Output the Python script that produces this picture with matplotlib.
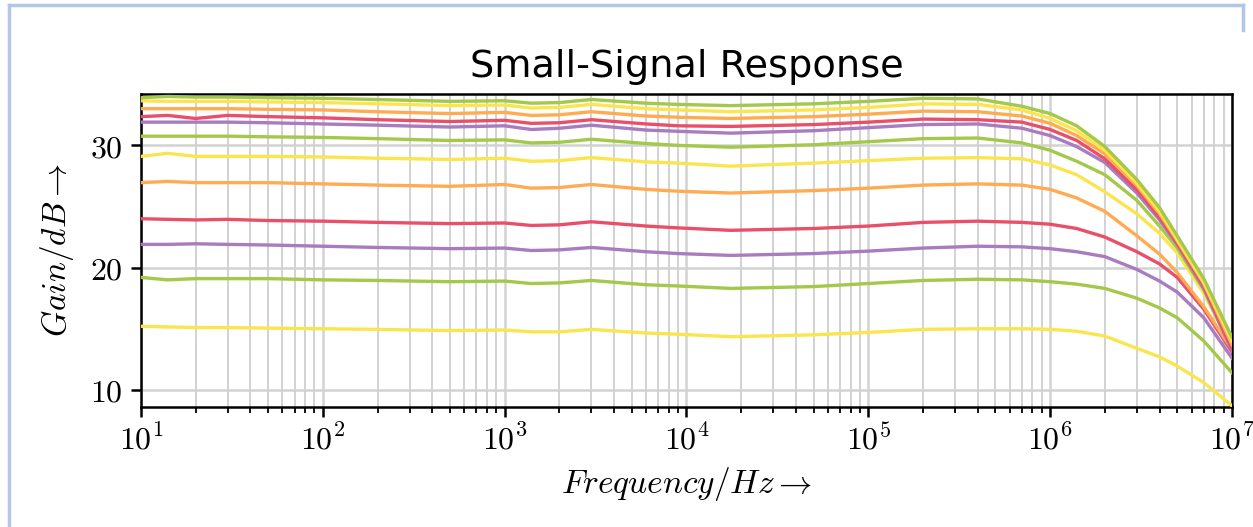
import numpy as np
import matplotlib.pyplot as plt
from matplotlib.lines import Line2D
from matplotlib.ticker import FuncFormatter, LogLocator

plt.rcParams['mathtext.fontset'] = 'cm'

# frequency points of the measurement
freq = [10, 14, 20, 30, 50, 100, 200, 500, 1e3, 1.4e3, 2e3, 3e3, 6e3, 9e3, 1.75e4,
        5e4, 1e5, 2e5, 4e5, 7e5, 1e6, 1.4e6, 2e6, 3e6, 4e6, 5e6, 7e6, 1e7]

# gain curves in dB, lowest setting first
gain_01 = [15.2, 15.15, 15.1, 15.1, 15.05, 15.0, 14.95, 14.85, 14.9, 14.75, 14.75, 14.95, 14.65, 14.55, 14.35,
           14.5, 14.7, 14.95, 15.0, 15.0, 14.95, 14.8, 14.4, 13.4, 12.7, 11.95, 10.6, 8.7]
gain_02 = [19.2, 19.0, 19.1, 19.1, 19.1, 19.0, 18.95, 18.85, 18.9, 18.7, 18.75, 18.95, 18.6, 18.5, 18.3,
           18.45, 18.7, 18.95, 19.05, 19.0, 18.85, 18.65, 18.3, 17.5, 16.7, 15.9, 14.0, 11.4]
gain_03 = [21.9, 21.9, 21.95, 21.9, 21.85, 21.75, 21.65, 21.55, 21.6, 21.4, 21.45, 21.65, 21.3, 21.15, 21.0,
           21.15, 21.35, 21.6, 21.75, 21.7, 21.55, 21.3, 20.9, 19.85, 18.9, 18.0, 15.9, 12.6]
gain_04 = [24.0, 23.95, 23.9, 23.95, 23.85, 23.8, 23.7, 23.6, 23.65, 23.45, 23.5, 23.75, 23.4, 23.25, 23.05,
           23.2, 23.4, 23.7, 23.8, 23.7, 23.55, 23.2, 22.5, 21.3, 20.3, 19.2, 16.6, 13.1]
gain_05 = [26.95, 27.05, 26.95, 26.95, 26.95, 26.85, 26.75, 26.65, 26.8, 26.5, 26.55, 26.8, 26.4, 26.25, 26.1,
           26.3, 26.5, 26.75, 26.85, 26.75, 26.4, 25.7, 24.6, 22.6, 21.1, 19.6, 16.8, 13.3]
gain_06 = [29.1, 29.35, 29.1, 29.1, 29.1, 29.05, 28.95, 28.85, 28.95, 28.7, 28.75, 29.0, 28.65, 28.55, 28.3,
           28.55, 28.75, 28.95, 29.0, 28.9, 28.4, 27.6, 26.2, 24.4, 22.8, 21.2, 17.9, 13.4]
gain_07 = [30.75, 30.75, 30.75, 30.75, 30.7, 30.65, 30.55, 30.4, 30.45, 30.2, 30.25, 30.5, 30.15, 30.0, 29.85,
           30.05, 30.3, 30.55, 30.6, 30.2, 29.6, 28.7, 27.6, 25.5, 23.4, 21.6, 18.2, 13.3]
gain_08 = [31.9, 31.9, 31.9, 31.9, 31.85, 31.75, 31.65, 31.5, 31.6, 31.3, 31.4, 31.65, 31.25, 31.15, 31.0,
           31.2, 31.45, 31.7, 31.75, 31.4, 30.8, 29.9, 28.6, 26.1, 23.9, 21.9, 18.3, 13.2]
gain_09 = [32.35, 32.45, 32.2, 32.45, 32.35, 32.25, 32.1, 31.95, 32.05, 31.8, 31.85, 32.1, 31.75, 31.6, 31.55,
           31.7, 31.9, 32.15, 32.1, 31.9, 31.3, 30.4, 28.9, 26.4, 24.1, 22.0, 18.5, 13.4]
gain_10 = [33.0, 33.0, 33.0, 33.0, 32.95, 32.9, 32.75, 32.6, 32.7, 32.45, 32.5, 32.75, 32.4, 32.3, 32.2,
           32.35, 32.55, 32.8, 32.75, 32.4, 31.8, 30.8, 29.3, 26.7, 24.4, 22.2, 18.7, 13.7]
gain_11 = [33.65, 33.6, 33.6, 33.6, 33.55, 33.5, 33.4, 33.25, 33.3, 33.05, 33.1, 33.35, 33.0, 32.9, 32.75,
           32.9, 33.1, 33.4, 33.35, 32.9, 32.2, 31.2, 29.6, 26.9, 24.6, 22.3, 18.8, 14.0]
gain_12 = [33.9, 34.0, 33.95, 33.95, 33.9, 33.85, 33.75, 33.6, 33.65, 33.45, 33.5, 33.75, 33.45, 33.35, 33.25,
           33.4, 33.6, 33.85, 33.8, 33.2, 32.6, 31.6, 29.9, 27.2, 24.9, 22.6, 19.1, 14.3]

curves = [gain_01, gain_02, gain_03, gain_04, gain_05, gain_06,
          gain_07, gain_08, gain_09, gain_10, gain_11, gain_12]
palette = ['#fbe54e', '#a3c84a', '#a97bbf', '#ea4f6a', '#ffab52']

fig = plt.figure(figsize=(12.53, 5.27), dpi=100)
ax = fig.add_axes([0.1125, 0.2277, 0.8707, 0.5939])

for i, g in enumerate(curves):
    ax.plot(freq, g, color=palette[i % 5], lw=2.4, zorder=3)

ax.set_xscale('log')
ax.set_xlim(10, 1e7)
ax.set_ylim(8.6, 34.2)
ax.set_yticks([10, 20, 30])
ax.yaxis.set_major_formatter(FuncFormatter(lambda v, p: r'$%d$' % v))
ax.xaxis.set_major_locator(LogLocator(base=10, numticks=20))
ax.xaxis.set_major_formatter(FuncFormatter(lambda v, p: r'$10^{%d}$' % round(np.log10(v))))
ax.xaxis.set_minor_locator(LogLocator(base=10, subs=np.arange(2, 10), numticks=20))

ax.grid(True, which='major', color='#d2d2d2', lw=1.8, zorder=0)
ax.grid(True, which='minor', axis='x', color='#d2d2d2', lw=1.4, zorder=0)

for s in ax.spines.values():
    s.set_linewidth(1.8)
ax.tick_params(which='major', direction='out', length=7, width=1.8, labelsize=23, pad=6)
ax.tick_params(which='minor', direction='out', length=4, width=1.3)

ax.set_title('Small-Signal Response', fontsize=27.5, pad=12)
ax.set_xlabel(r'$Frequency/Hz \rightarrow$', fontsize=24, labelpad=6)
ax.set_ylabel(r'$Gain/dB \rightarrow$', fontsize=24, labelpad=10)

# light blue frame of the output cell
fig.add_artist(Line2D([9 / 1253, 9 / 1253], [0, 1 - 5 / 527], color='#b4c5ea', lw=2.5))
fig.add_artist(Line2D([9 / 1253, 1243 / 1253], [1 - 5 / 527, 1 - 5 / 527], color='#b4c5ea', lw=2.5))
fig.add_artist(Line2D([1243 / 1253, 1243 / 1253], [1 - 5 / 527, 1 - 30 / 527], color='#b4c5ea', lw=2.5))

fig.savefig('out.png', dpi=100)
